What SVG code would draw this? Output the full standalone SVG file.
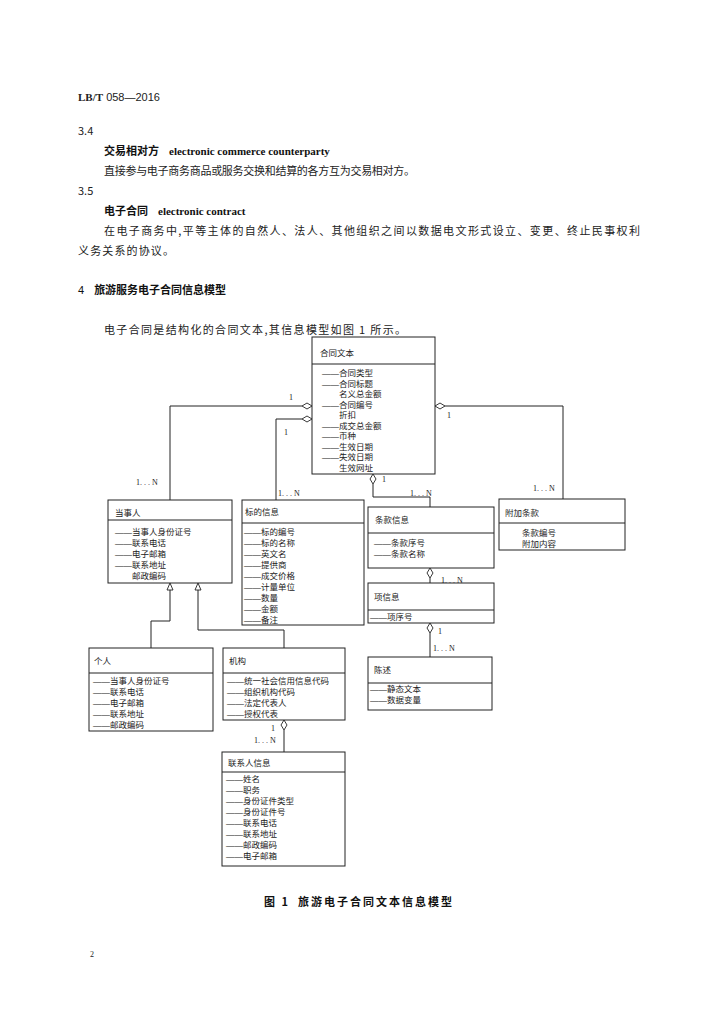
<svg xmlns="http://www.w3.org/2000/svg" width="724" height="1024" viewBox="0 0 724 1024">
<style>
.body{font-family:"Noto Sans CJK SC","Liberation Serif",serif;font-size:11px;fill:#222}
.bold{font-family:"Noto Sans CJK SC",sans-serif;font-size:11px;font-weight:bold;fill:#111}
.en{font-family:"Liberation Serif",serif;font-weight:bold}
.t{font-family:"Noto Sans CJK SC",sans-serif;font-size:8.5px;fill:#222}
.d{font-family:"Liberation Serif",serif}
.lb{font-family:"Liberation Serif",serif;font-size:8px;fill:#222}
.box{fill:#fff;stroke:#222;stroke-width:1}
.sep{stroke:#222;stroke-width:1}
.con{fill:none;stroke:#222;stroke-width:1}
.dia{fill:#fff;stroke:#222;stroke-width:0.9}
</style>
<rect width="724" height="1024" fill="#fff"/>
<g id="page-text">
<text x="78" y="101" class="body"><tspan class="en" font-size="11">LB/T</tspan><tspan font-family="Liberation Sans" font-size="11"> 058—2016</tspan></text>
<text x="78" y="135" class="body" font-family="Liberation Sans">3.4</text>
<text x="104" y="155" class="bold">交易相对方<tspan class="en" dx="10">electronic commerce counterparty</tspan></text>
<text x="104" y="175" class="body" textLength="311">直接参与电子商务商品或服务交换和结算的各方互为交易相对方。</text>
<text x="78" y="195" class="body" font-family="Liberation Sans">3.5</text>
<text x="104" y="215" class="bold">电子合同<tspan class="en" dx="10">electronic contract</tspan></text>
<text x="104" y="235" class="body" textLength="536" lengthAdjust="spacing">在电子商务中,平等主体的自然人、法人、其他组织之间以数据电文形式设立、变更、终止民事权利</text>
<text x="78" y="255" class="body" textLength="96">义务关系的协议。</text>
<text x="78" y="294" class="bold"><tspan font-family="Liberation Sans" font-weight="normal">4</tspan><tspan dx="10">旅游服务电子合同信息模型</tspan></text>
<text x="104" y="334" class="body" textLength="302">电子合同是结构化的合同文本,其信息模型如图 1 所示。</text>
<text x="264" y="906" class="bold" font-size="10.5" letter-spacing="2">图 1<tspan dx="8">旅游电子合同文本信息模型</tspan></text>
<text x="90" y="957" class="lb" font-size="9">2</text>
</g>
<g id="connectors">
<polyline class="con" points="302,406 170,406 170,500"/>
<polyline class="con" points="302,419 276,419 276,500"/>
<polyline class="con" points="445,406 563,406 563,499"/>
<polyline class="con" points="373,484 373,497 430,497 430,507"/>
<polyline class="con" points="430,578 430,583"/>
<polyline class="con" points="430,633 430,657"/>
<polyline class="con" points="284,730 284,752"/>
<polyline class="con" points="170,590 170,621 151,621 151,648"/>
<polyline class="con" points="198,590 198,630 284,630 284,648"/>
<polygon class="dia" points="312,406 307,403 302,406 307,409"/>
<polygon class="dia" points="312,419 307,416 302,419 307,422"/>
<polygon class="dia" points="435,406 440,403 445,406 440,409"/>
<polygon class="dia" points="373,474 376,479 373,484 370,479"/>
<polygon class="dia" points="430,568 433,573 430,578 427,573"/>
<polygon class="dia" points="430,623 433,628 430,633 427,628"/>
<polygon class="dia" points="284,720 287,725 284,730 281,725"/>
<polygon class="dia" points="170,583 173,590 167,590"/>
<polygon class="dia" points="198,583 201,590 195,590"/>
<text x="289" y="400" class="lb">1</text>
<text x="136" y="485" class="lb">1. . . N</text>
<text x="284" y="435" class="lb">1</text>
<text x="278" y="496" class="lb">1. . . N</text>
<text x="447" y="418" class="lb">1</text>
<text x="533" y="491" class="lb">1. . . N</text>
<text x="382" y="482" class="lb">1</text>
<text x="410" y="496" class="lb">1. . . N</text>
<text x="438" y="568" class="lb">1</text>
<text x="441" y="583" class="lb">1. . . N</text>
<text x="438" y="634" class="lb">1</text>
<text x="433" y="651" class="lb">1. . . N</text>
<text x="271" y="731" class="lb">1</text>
<text x="254" y="743" class="lb">1. . . N</text>
</g>
<g id="contract-text">
<rect class="box" x="312" y="337" width="123" height="137"/>
<line class="sep" x1="312" y1="364" x2="435" y2="364"/>
<text x="320" y="356" class="t">合同文本</text>
<text x="322" y="376" class="t"><tspan class="d">——</tspan>合同类型</text>
<text x="322" y="386.5" class="t"><tspan class="d">——</tspan>合同标题</text>
<text x="339" y="397" class="t">名义总金额</text>
<text x="322" y="407.5" class="t"><tspan class="d">——</tspan>合同编号</text>
<text x="339" y="418" class="t">折扣</text>
<text x="322" y="428.5" class="t"><tspan class="d">——</tspan>成交总金额</text>
<text x="322" y="439" class="t"><tspan class="d">——</tspan>币种</text>
<text x="322" y="449.5" class="t"><tspan class="d">——</tspan>生效日期</text>
<text x="322" y="460" class="t"><tspan class="d">——</tspan>失效日期</text>
<text x="339" y="470.5" class="t">生效网址</text>
</g>
<g id="party">
<rect class="box" x="108" y="500" width="124" height="83"/>
<line class="sep" x1="108" y1="520" x2="232" y2="520"/>
<text x="115" y="516" class="t">当事人</text>
<text x="115" y="535" class="t"><tspan class="d">——</tspan>当事人身份证号</text>
<text x="115" y="546" class="t"><tspan class="d">——</tspan>联系电话</text>
<text x="115" y="557" class="t"><tspan class="d">——</tspan>电子邮箱</text>
<text x="115" y="568" class="t"><tspan class="d">——</tspan>联系地址</text>
<text x="132" y="579" class="t">邮政编码</text>
</g>
<g id="subject-info">
<rect class="box" x="242" y="500" width="122" height="125"/>
<line class="sep" x1="242" y1="523" x2="364" y2="523"/>
<text x="245" y="515" class="t">标的信息</text>
<text x="244" y="535" class="t"><tspan class="d">——</tspan>标的编号</text>
<text x="244" y="546" class="t"><tspan class="d">——</tspan>标的名称</text>
<text x="244" y="557" class="t"><tspan class="d">——</tspan>英文名</text>
<text x="244" y="568" class="t"><tspan class="d">——</tspan>提供商</text>
<text x="244" y="579" class="t"><tspan class="d">——</tspan>成交价格</text>
<text x="244" y="590" class="t"><tspan class="d">——</tspan>计量单位</text>
<text x="244" y="601" class="t"><tspan class="d">——</tspan>数量</text>
<text x="244" y="612" class="t"><tspan class="d">——</tspan>金额</text>
<text x="244" y="623" class="t"><tspan class="d">——</tspan>备注</text>
</g>
<g id="clause-info">
<rect class="box" x="368" y="507" width="126" height="61"/>
<line class="sep" x1="368" y1="533" x2="494" y2="533"/>
<text x="375" y="523" class="t">条款信息</text>
<text x="374" y="546" class="t"><tspan class="d">——</tspan>条款序号</text>
<text x="374" y="557" class="t"><tspan class="d">——</tspan>条款名称</text>
</g>
<g id="item-info">
<rect class="box" x="368" y="583" width="126" height="40"/>
<line class="sep" x1="368" y1="610" x2="494" y2="610"/>
<text x="374" y="600" class="t">项信息</text>
<text x="370" y="620" class="t"><tspan class="d">——</tspan>项序号</text>
</g>
<g id="statement">
<rect class="box" x="368" y="657" width="124" height="53"/>
<line class="sep" x1="368" y1="683" x2="492" y2="683"/>
<text x="374" y="673" class="t">陈述</text>
<text x="370" y="692" class="t"><tspan class="d">——</tspan>静态文本</text>
<text x="370" y="703" class="t"><tspan class="d">——</tspan>数据变量</text>
</g>
<g id="extra-clause">
<rect class="box" x="499" y="499" width="126" height="51"/>
<line class="sep" x1="499" y1="523" x2="625" y2="523"/>
<text x="505" y="516" class="t">附加条款</text>
<text x="522" y="536" class="t">条款编号</text>
<text x="522" y="547" class="t">附加内容</text>
</g>
<g id="person">
<rect class="box" x="89" y="648" width="124" height="83"/>
<line class="sep" x1="89" y1="673" x2="213" y2="673"/>
<text x="94" y="664" class="t">个人</text>
<text x="93" y="684" class="t"><tspan class="d">——</tspan>当事人身份证号</text>
<text x="93" y="695" class="t"><tspan class="d">——</tspan>联系电话</text>
<text x="93" y="706" class="t"><tspan class="d">——</tspan>电子邮箱</text>
<text x="93" y="717" class="t"><tspan class="d">——</tspan>联系地址</text>
<text x="93" y="728" class="t"><tspan class="d">——</tspan>邮政编码</text>
</g>
<g id="organization">
<rect class="box" x="223" y="648" width="122" height="72"/>
<line class="sep" x1="223" y1="673" x2="345" y2="673"/>
<text x="229" y="664" class="t">机构</text>
<text x="227" y="684" class="t"><tspan class="d">——</tspan>统一社会信用信息代码</text>
<text x="227" y="695" class="t"><tspan class="d">——</tspan>组织机构代码</text>
<text x="227" y="706" class="t"><tspan class="d">——</tspan>法定代表人</text>
<text x="227" y="717" class="t"><tspan class="d">——</tspan>授权代表</text>
</g>
<g id="contact-info">
<rect class="box" x="222" y="752" width="123" height="114"/>
<line class="sep" x1="222" y1="772" x2="345" y2="772"/>
<text x="228" y="766" class="t">联系人信息</text>
<text x="226" y="782" class="t"><tspan class="d">——</tspan>姓名</text>
<text x="226" y="793" class="t"><tspan class="d">——</tspan>职务</text>
<text x="226" y="804" class="t"><tspan class="d">——</tspan>身份证件类型</text>
<text x="226" y="815" class="t"><tspan class="d">——</tspan>身份证件号</text>
<text x="226" y="826" class="t"><tspan class="d">——</tspan>联系电话</text>
<text x="226" y="837" class="t"><tspan class="d">——</tspan>联系地址</text>
<text x="226" y="848" class="t"><tspan class="d">——</tspan>邮政编码</text>
<text x="226" y="859" class="t"><tspan class="d">——</tspan>电子邮箱</text>
</g>
</svg>
